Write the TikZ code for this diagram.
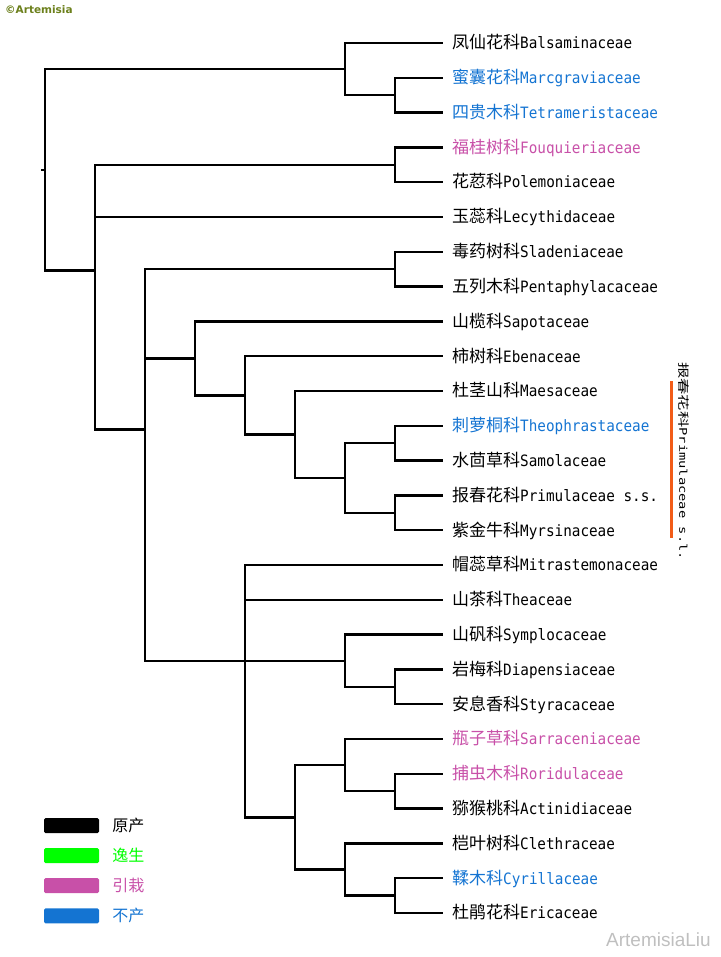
\documentclass[tikz,border=0pt]{standalone}
\usepackage{fontspec}
\setmainfont{Noto Sans CJK SC}
\setmonofont{DejaVu Sans Mono}[Scale=0.92, FakeStretch=0.915]
\newfontfamily\signfont{DejaVu Sans}
\newfontfamily\weibofont{Liberation Sans}
\usepackage{xcolor}
\usepackage{graphicx}
\usepackage{tikz}
\usetikzlibrary{positioning}

\definecolor{absentblue}{RGB}{20,116,210}
\definecolor{introducedpink}{RGB}{200,80,168}
\definecolor{escapedgreen}{RGB}{0,255,0}
\definecolor{barorange}{RGB}{242,92,24}
\definecolor{signolive}{RGB}{108,128,28}

\begin{document}
\begin{tikzpicture}[x=1pt, y=-1pt,
  branch/.style={line width=2.4pt},
  leaf/.style={anchor=west, inner xsep=9pt, inner ysep=0pt, text height=13pt, text depth=1.4pt, font=\fontsize{17pt}{20pt}\selectfont},
  legbox/.style={minimum width=55pt, minimum height=15pt, inner sep=0pt, rounded corners=1.5pt},
  legtext/.style={inner sep=0pt, font=\fontsize{16pt}{18pt}\selectfont}]
\useasboundingbox (0,0) rectangle (720,957);

% leaves
\node[leaf] (balsam) at (443,43.0) {凤仙花科\texttt{Balsaminaceae}};
\node[leaf, text=absentblue] (marcgr) at (443,77.8) {蜜囊花科\texttt{Marcgraviaceae}};
\node[leaf, text=absentblue] (tetram) at (443,112.6) {四贵木科\texttt{Tetrameristaceae}};
\node[leaf, text=introducedpink] (fouqu) at (443,147.4) {福桂树科\texttt{Fouquieriaceae}};
\node[leaf] (polem) at (443,182.2) {花荵科\texttt{Polemoniaceae}};
\node[leaf] (lecyth) at (443,217.0) {玉蕊科\texttt{Lecythidaceae}};
\node[leaf] (sladen) at (443,251.8) {毒药树科\texttt{Sladeniaceae}};
\node[leaf] (pentaph) at (443,286.6) {五列木科\texttt{Pentaphylacaceae}};
\node[leaf] (sapot) at (443,321.4) {山榄科\texttt{Sapotaceae}};
\node[leaf] (ebenac) at (443,356.2) {柿树科\texttt{Ebenaceae}};
\node[leaf] (maesa) at (443,391.0) {杜茎山科\texttt{Maesaceae}};
\node[leaf, text=absentblue] (theoph) at (443,425.8) {刺萝桐科\texttt{Theophrastaceae}};
\node[leaf] (samol) at (443,460.6) {水茴草科\texttt{Samolaceae}};
\node[leaf] (primul) at (443,495.4) {报春花科\texttt{Primulaceae s.s.}};
\node[leaf] (myrsin) at (443,530.2) {紫金牛科\texttt{Myrsinaceae}};
\node[leaf] (mitras) at (443,565.0) {帽蕊草科\texttt{Mitrastemonaceae}};
\node[leaf] (theac) at (443,599.8) {山茶科\texttt{Theaceae}};
\node[leaf] (symplo) at (443,634.6) {山矾科\texttt{Symplocaceae}};
\node[leaf] (diapen) at (443,669.4) {岩梅科\texttt{Diapensiaceae}};
\node[leaf] (styrac) at (443,704.2) {安息香科\texttt{Styracaceae}};
\node[leaf, text=introducedpink] (sarrac) at (443,739.0) {瓶子草科\texttt{Sarraceniaceae}};
\node[leaf, text=introducedpink] (roridu) at (443,773.8) {捕虫木科\texttt{Roridulaceae}};
\node[leaf] (actini) at (443,808.6) {猕猴桃科\texttt{Actinidiaceae}};
\node[leaf] (clethr) at (443,843.4) {桤叶树科\texttt{Clethraceae}};
\node[leaf, text=absentblue] (cyrill) at (443,878.2) {鞣木科\texttt{Cyrillaceae}};
\node[leaf] (ericac) at (443,913.0) {杜鹃花科\texttt{Ericaceae}};

% inner nodes
\coordinate (marctet) at (395,95.2);
\coordinate (balsamclade) at (345,69.1);
\coordinate (fouqpol) at (395,164.8);
\coordinate (sladpent) at (395,269.2);
\coordinate (theosam) at (395,443.2);
\coordinate (primmyr) at (395,512.8);
\coordinate (primcore) at (345,478.0);
\coordinate (maesclade) at (295,434.5);
\coordinate (ebenclade) at (245,395.4);
\coordinate (sapoclade) at (195,358.3);
\coordinate (diapsty) at (395,686.8);
\coordinate (symplclade) at (345,660.7);
\coordinate (roriact) at (395,791.2);
\coordinate (sarrclade) at (345,765.1);
\coordinate (cyreri) at (395,895.6);
\coordinate (clethclade) at (345,869.5);
\coordinate (ericoids) at (295,817.3);
\coordinate (theaclade) at (245,660.7);
\coordinate (midclade) at (145,429.4);
\coordinate (upperclade) at (95,270.4);
\coordinate (root) at (45,169.8);
\coordinate (stem) at (41,169.8);

% branches
\draw[branch] (stem) -- (root);
\draw[branch] (root) |- (balsamclade) (root) |- (upperclade);
\draw[branch] (balsamclade) |- (balsam.west) (balsamclade) |- (marctet);
\draw[branch] (marctet) |- (marcgr.west) (marctet) |- (tetram.west);
\draw[branch] (upperclade) |- (fouqpol) (upperclade) |- (lecyth.west) (upperclade) |- (midclade);
\draw[branch] (fouqpol) |- (fouqu.west) (fouqpol) |- (polem.west);
\draw[branch] (midclade) |- (sladpent) (midclade) |- (sapoclade) (midclade) |- (theaclade);
\draw[branch] (sladpent) |- (sladen.west) (sladpent) |- (pentaph.west);
\draw[branch] (sapoclade) |- (sapot.west) (sapoclade) |- (ebenclade);
\draw[branch] (ebenclade) |- (ebenac.west) (ebenclade) |- (maesclade);
\draw[branch] (maesclade) |- (maesa.west) (maesclade) |- (primcore);
\draw[branch] (primcore) |- (theosam) (primcore) |- (primmyr);
\draw[branch] (theosam) |- (theoph.west) (theosam) |- (samol.west);
\draw[branch] (primmyr) |- (primul.west) (primmyr) |- (myrsin.west);
\draw[branch] (theaclade) |- (mitras.west) (theaclade) |- (theac.west)
  (theaclade) |- (symplclade) (theaclade) |- (ericoids);
\draw[branch] (symplclade) |- (symplo.west) (symplclade) |- (diapsty);
\draw[branch] (diapsty) |- (diapen.west) (diapsty) |- (styrac.west);
\draw[branch] (ericoids) |- (sarrclade) (ericoids) |- (clethclade);
\draw[branch] (sarrclade) |- (sarrac.west) (sarrclade) |- (roriact);
\draw[branch] (roriact) |- (roridu.west) (roriact) |- (actini.west);
\draw[branch] (clethclade) |- (clethr.west) (clethclade) |- (cyreri);
\draw[branch] (cyreri) |- (cyrill.west) (cyreri) |- (ericac.west);

% Primulaceae s.l. bracket
\coordinate (bartop) at (671.5,381);
\coordinate (barbot) at (671.5,538);
\draw[line width=3.5pt, barorange] (bartop) -- (barbot);
\node[rotate=-90, anchor=west, inner sep=0pt, text height=8.5pt, text depth=0pt, font=\fontsize{11.5pt}{13pt}\selectfont] (primsl) at (683.5,362) {\scalebox{1.42}[1]{报春花科\texttt{Primulaceae s.l.}}};

% legend
\node[legbox, fill=black] (kblack) at (71.5,825.5) {};
\node[legbox, fill=escapedgreen, below=14.7pt of kblack] (kgreen) {};
\node[legbox, fill=introducedpink, below=14.7pt of kgreen] (kpink) {};
\node[legbox, fill=absentblue, below=14.7pt of kpink] (kblue) {};
\node[legtext, right=13pt of kblack] (lblack) {原产};
\node[legtext, text=escapedgreen, right=13pt of kgreen] (lgreen) {逸生};
\node[legtext, text=introducedpink, right=13pt of kpink] (lpink) {引栽};
\node[legtext, text=absentblue, right=13pt of kblue] (lblue) {不产};

% marks
\node[anchor=west, inner sep=0pt, text=signolive, font=\signfont\bfseries\fontsize{10.5pt}{12pt}\selectfont] (sign) at (5,10) {©Artemisia};
\node[anchor=west, inner sep=0pt, text=black!25, font=\weibofont\fontsize{19pt}{22pt}\selectfont] (weibo) at (606,940) {ArtemisiaLiu};
\end{tikzpicture}
\end{document}
